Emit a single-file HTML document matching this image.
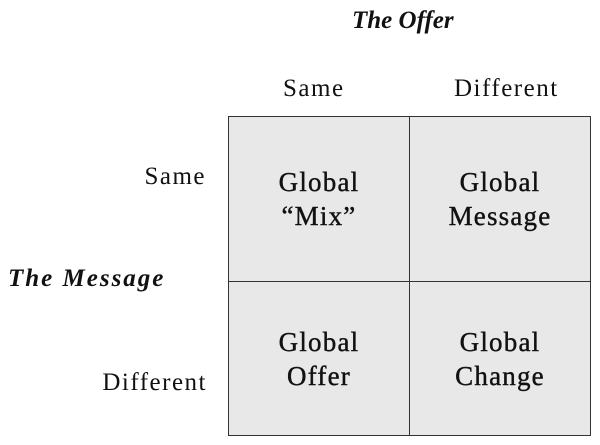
<!DOCTYPE html>
<html><head><style>
body{margin:0;width:600px;height:445px;background:#fff;position:relative;overflow:hidden;font-family:"Liberation Serif",serif;color:#111}
.t{position:absolute;white-space:nowrap;font-size:25px;line-height:1;letter-spacing:1.5px}
.c{position:absolute;background:#e8e8e8;border:1px solid #333;box-sizing:border-box;display:flex;flex-direction:column;justify-content:center;align-items:center;font-size:27px;line-height:34px;text-align:center;letter-spacing:1.2px;-webkit-text-stroke:0.4px #111}
</style></head><body>
<div class="t" style="left:352px;top:8px;font-weight:bold;font-style:italic;letter-spacing:0px">The Offer</div>
<div class="t" style="left:283px;top:76px">Same</div>
<div class="t" style="left:454px;top:76px">Different</div>
<div class="t" style="right:394px;top:164px">Same</div>
<div class="t" style="left:8px;top:266px;font-weight:bold;font-style:italic;letter-spacing:2px">The Message</div>
<div class="t" style="right:393px;top:370px">Different</div>
<div class="c" style="left:228px;top:116px;width:182px;height:166px">Global<br>“Mix”</div>
<div class="c" style="left:409px;top:116px;width:182px;height:166px">Global<br>Message</div>
<div class="c" style="left:228px;top:281px;width:182px;height:155px">Global<br>Offer</div>
<div class="c" style="left:409px;top:281px;width:182px;height:155px">Global<br>Change</div>
</body></html>
